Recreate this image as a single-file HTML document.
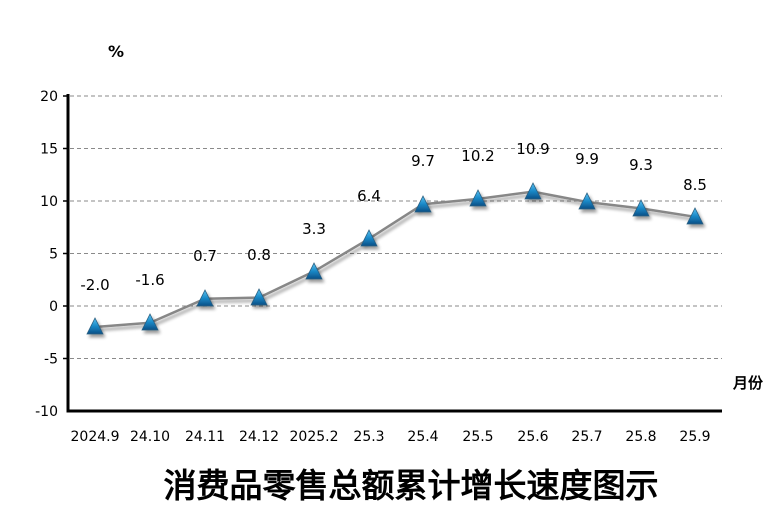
<!DOCTYPE html>
<html><head><meta charset="utf-8"><style>
html,body{margin:0;padding:0;background:#fff;}
svg{display:block;}
text{font-family:"DejaVu Sans","Liberation Sans",sans-serif;}
</style></head><body>
<svg width="784" height="531" xmlns="http://www.w3.org/2000/svg">
<defs>
<linearGradient id="tg" x1="0" y1="0" x2="0" y2="1">
<stop offset="0" stop-color="#5cc2f0"/><stop offset="0.5" stop-color="#1a8ac8"/><stop offset="1" stop-color="#0b4f86"/>
</linearGradient>
<filter id="sh" x="-50%" y="-50%" width="200%" height="200%"><feGaussianBlur in="SourceAlpha" stdDeviation="1.5"/><feOffset dx="2" dy="3"/><feComponentTransfer><feFuncA type="linear" slope="0.4"/></feComponentTransfer><feMerge><feMergeNode/><feMergeNode in="SourceGraphic"/></feMerge></filter>
</defs>
<g stroke="#8a8a8a" stroke-width="1" stroke-dasharray="4,3">
<line x1="70" y1="96" x2="722" y2="96"/>
<line x1="70" y1="148.5" x2="722" y2="148.5"/>
<line x1="70" y1="201" x2="722" y2="201"/>
<line x1="70" y1="253.5" x2="722" y2="253.5"/>
<line x1="70" y1="306" x2="722" y2="306"/>
<line x1="70" y1="358.5" x2="722" y2="358.5"/>
</g>
<g stroke="#000" stroke-width="3">
<line x1="68" y1="94" x2="68" y2="412"/>
<line x1="66.5" y1="411" x2="722" y2="411"/>
</g>
<g stroke="#000" stroke-width="1.5">
<line x1="63" y1="96" x2="68" y2="96"/><line x1="63" y1="148.5" x2="68" y2="148.5"/><line x1="63" y1="201" x2="68" y2="201"/><line x1="63" y1="253.5" x2="68" y2="253.5"/><line x1="63" y1="306" x2="68" y2="306"/><line x1="63" y1="358.5" x2="68" y2="358.5"/>
</g>
<g font-size="14" text-anchor="end" fill="#000">
<text x="58" y="101">20</text><text x="58" y="153.5">15</text><text x="58" y="206">10</text><text x="58" y="258.5">5</text><text x="58" y="311">0</text><text x="58" y="363.5">-5</text><text x="58" y="416">-10</text>
</g>
<text x="116" y="57" font-size="16" font-weight="bold" text-anchor="middle">%</text>
<text x="748" y="388" font-size="15" font-weight="bold" text-anchor="middle" font-family="'Noto Sans CJK SC',sans-serif">月份</text>
<g font-size="14" text-anchor="middle">
<text x="95" y="441">2024.9</text><text x="150" y="441">24.10</text><text x="205" y="441">24.11</text><text x="259" y="441">24.12</text><text x="314" y="441">2025.2</text><text x="369" y="441">25.3</text><text x="423" y="441">25.4</text><text x="478" y="441">25.5</text><text x="533" y="441">25.6</text><text x="587" y="441">25.7</text><text x="641" y="441">25.8</text><text x="695" y="441">25.9</text>
</g>
<polyline filter="url(#sh)" fill="none" stroke="#878787" stroke-width="2.5" points="95,327 150,322.8 205,298.7 259,297.6 314,271.4 369,238.8 423,204.2 478,198.9 533,191.6 587,202 641,208.4 695,216.8"/>
<g fill="url(#tg)" stroke="#2a5f80" stroke-width="0.8" filter="url(#sh)">
<polygon points="95,318 87,334 103,334"/>
<polygon points="150,314 142,330 158,330"/>
<polygon points="205,290 197,306 213,306"/>
<polygon points="259,289 251,305 267,305"/>
<polygon points="314,263 306,279 322,279"/>
<polygon points="369,230 361,246 377,246"/>
<polygon points="423,196 415,212 431,212"/>
<polygon points="478,190 470,206 486,206"/>
<polygon points="533,183 525,199 541,199"/>
<polygon points="587,193 579,209 595,209"/>
<polygon points="641,200 633,216 649,216"/>
<polygon points="695,208 687,224 703,224"/>
</g>
<g font-size="15" text-anchor="middle">
<text x="95" y="290">-2.0</text><text x="150" y="285">-1.6</text><text x="205" y="261">0.7</text><text x="259" y="260">0.8</text><text x="314" y="234">3.3</text><text x="369" y="201">6.4</text><text x="423" y="166">9.7</text><text x="478" y="161">10.2</text><text x="533" y="154">10.9</text><text x="587" y="164">9.9</text><text x="641" y="170">9.3</text><text x="695" y="190">8.5</text>
</g>
<text x="411" y="497" font-size="33" font-weight="bold" text-anchor="middle" font-family="'Noto Serif CJK SC','Noto Serif CJK JP',serif">消费品零售总额累计增长速度图示</text>
</svg>
</body></html>
